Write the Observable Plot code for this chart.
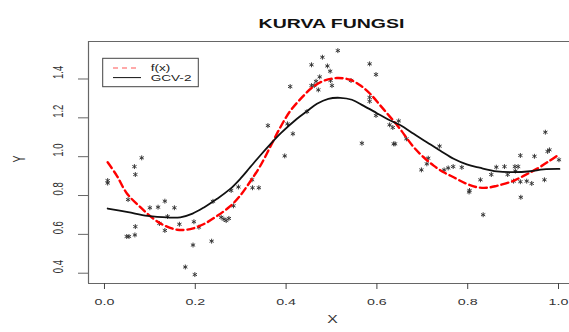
<!DOCTYPE html>
<html><head><meta charset="utf-8">
<script src="https://cdn.jsdelivr.net/npm/d3@7"></script>
<script src="https://cdn.jsdelivr.net/npm/@observablehq/plot@0.6"></script>
<style>html,body{margin:0;padding:0;background:#fff;}</style>
</head><body><div id="chart"></div>
<script>
const title = "KURVA FUNGSI";
const xLabel = "X";
const yLabel = "Y";
const legendLabels = ["f(x)", "GCV-2"];
const xTicks = [0, 0.2, 0.4, 0.6, 0.8, 1.0];
const yTicks = [0.4, 0.6, 0.8, 1.0, 1.2, 1.4];

const obsX = [0.007,0.007,0.049,0.054,0.067,0.052,0.066,0.068,0.082,0.068,
  0.100,0.118,0.133,0.154,0.139,0.121,0.165,0.133,0.197,0.208,
  0.195,0.178,0.199,0.236,0.239,0.284,0.279,0.295,0.257,0.263,
  0.268,0.274,0.325,0.326,0.340,0.360,0.397,0.403,0.415,0.409,
  0.446,0.456,0.456,0.462,0.466,0.471,0.474,0.480,0.491,0.497,
  0.498,0.501,0.514,0.543,0.584,0.598,0.584,0.584,0.598,0.567,
  0.628,0.635,0.648,0.637,0.640,0.665,0.738,0.713,0.710,0.698,
  0.748,0.757,0.768,0.787,0.804,0.803,0.828,0.834,0.852,0.863,
  0.881,0.888,0.904,0.911,0.905,0.916,0.947,0.971,0.980,0.976,
  1.001,0.901,0.916,0.930,0.941,0.969,0.917];
const obsY = [0.877,0.864,0.589,0.589,0.597,0.779,0.949,0.908,0.994,0.640,
  0.737,0.740,0.771,0.737,0.692,0.656,0.652,0.620,0.665,0.637,
  0.545,0.432,0.393,0.565,0.770,0.747,0.826,0.844,0.688,0.678,
  0.671,0.682,0.881,0.840,0.840,1.160,1.004,1.169,1.118,1.361,
  1.232,1.473,1.366,1.366,1.388,1.344,1.411,1.512,1.467,1.440,
  1.392,1.366,1.546,1.392,1.478,1.423,1.305,1.285,1.212,1.069,
  1.164,1.150,1.184,1.066,1.066,1.092,1.054,0.992,0.963,0.932,
  0.932,0.942,0.949,0.945,0.826,0.818,0.881,0.701,0.908,0.946,
  0.949,0.908,0.949,0.949,0.926,1.006,1.002,1.126,1.035,1.027,
  0.984,0.874,0.871,0.874,0.862,0.881,0.791];

// f(x) curve (red dashed)
const fX = [0.007,0.027,0.049,0.079,0.108,0.130,0.160,0.189,0.218,0.248,0.277,0.299,0.321,0.343,0.365,0.387,0.409,0.435,0.457,0.482,0.512,0.541,0.563,0.585,0.607,0.629,0.648,0.681,0.703,0.725,0.747,0.769,0.795,0.820,0.842,0.864,0.897,0.923,0.952,0.978,1.000];
const fY = [0.971,0.903,0.812,0.740,0.680,0.648,0.624,0.627,0.652,0.695,0.745,0.800,0.872,0.952,1.050,1.150,1.235,1.305,1.355,1.390,1.405,1.396,1.368,1.324,1.265,1.205,1.152,1.049,0.997,0.954,0.920,0.894,0.863,0.843,0.840,0.850,0.872,0.901,0.937,0.975,1.010];

// GCV-2 curve (black solid)
const gX = [0.007,0.052,0.095,0.139,0.167,0.194,0.220,0.248,0.277,0.299,0.321,0.343,0.365,0.389,0.424,0.446,0.468,0.493,0.519,0.545,0.570,0.600,0.626,0.651,0.681,0.710,0.739,0.769,0.798,0.826,0.864,0.901,0.938,0.967,1.002];
const gY = [0.733,0.714,0.695,0.687,0.688,0.707,0.740,0.783,0.834,0.886,0.946,1.006,1.063,1.122,1.195,1.234,1.272,1.298,1.303,1.293,1.263,1.224,1.190,1.163,1.118,1.074,1.032,0.989,0.960,0.943,0.924,0.920,0.925,0.935,0.937];

const xDomain = [-0.0352, 1.0242];
const yDomain = [0.347, 1.593];

const obs = obsX.map((x, i) => ({x, y: obsY[i]}));
const fData = fX.map((x, i) => ({x, y: fY[i]}));
const gData = gX.map((x, i) => ({x, y: gY[i]}));

const FONT = "'Liberation Sans', Arial, Helvetica, sans-serif";
const borderColor = "#666";

const chart = Plot.plot({
  width: 569,
  height: 332,
  marginLeft: 88,
  marginRight: 0,
  marginTop: 41,
  marginBottom: 49,
  style: {fontFamily: FONT, background: "#fff", overflow: "visible"},
  x: {domain: xDomain},
  y: {domain: yDomain},
  marks: [
    Plot.ruleY([yDomain[0], yDomain[1]], {stroke: borderColor, strokeWidth: 1.2}),
    Plot.ruleX([xDomain[0]], {stroke: borderColor, strokeWidth: 1.2}),
    Plot.axisX({ticks: xTicks, tickSize: 6, tickPadding: 9, tickFormat: d => d.toFixed(1),
      fontSize: 9.5, stroke: "#444", fill: "#333", label: null}),
    Plot.axisY({ticks: yTicks, tickSize: 10, tickFormat: () => "", stroke: "#666", label: null}),
    Plot.text(yTicks, {y: d => d, text: d => d.toFixed(1), frameAnchor: "left", dx: -30,
      rotate: -90, fontSize: 9.5, fill: "#333"}),
    Plot.dot(obs, {x: "x", y: "y", symbol: "asterisk", r: 2.3, stroke: "#333", strokeWidth: 0.95}),
    Plot.line(fData, {x: "x", y: "y", stroke: "#ff0000", strokeWidth: 2.4, strokeDasharray: "7,4", curve: "catmull-rom"}),
    Plot.line(gData, {x: "x", y: "y", stroke: "#111", strokeWidth: 1.8, curve: "catmull-rom"}),
    Plot.text([title], {text: d => d, frameAnchor: "top", dx: 2.5, dy: -23, fontSize: 13, fontWeight: "bold", fill: "#111"}),
    Plot.text([xLabel], {text: d => d, frameAnchor: "bottom", dx: 3.5, dy: 39.5, fontSize: 10.5, fill: "#333"}),
    Plot.text([yLabel], {text: d => d, frameAnchor: "left", dx: -69, rotate: -90, fontSize: 10.5, fill: "#333"})
  ]
});

document.getElementById("chart").appendChild(chart);

// legend box (top-left inside the plot region)
const svg = d3.select(chart);
const lg = svg.append("g").attr("class", "legend").style("font-family", FONT);
lg.append("rect").attr("x", 102.7).attr("y", 58.3).attr("width", 95.6).attr("height", 28.4)
  .attr("fill", "#fff").attr("stroke", "#444").attr("stroke-width", 1);
lg.append("line").attr("x1", 113).attr("x2", 139).attr("y1", 68.0).attr("y2", 68.0)
  .attr("stroke", "#ff5555").attr("stroke-width", 1.2).attr("stroke-dasharray", "5,4");
lg.append("line").attr("x1", 113).attr("x2", 141).attr("y1", 77.6).attr("y2", 77.6)
  .attr("stroke", "#111").attr("stroke-width", 1);
lg.selectAll("text.lab").data(legendLabels).join("text").attr("class", "lab")
  .attr("x", 150.7).attr("y", (d, i) => 70.6 + i * 10.0)
  .attr("font-size", 8.5).attr("fill", "#222").attr("text-anchor", "start").text(d => d);

// horizontal stretch of the text to mimic the reference raster
function stretch(root, s, sel) {
  root.querySelectorAll(sel).forEach(t => {
    const b = t.getBBox();
    if (!b.width) return;
    const tr = t.getAttribute("transform") || "";
    if (/rotate\(/.test(tr)) {
      const cy = b.y + b.height / 2;
      t.setAttribute("transform", `${tr} translate(0,${cy}) scale(1,${s}) translate(0,${-cy})`);
    } else {
      const anchor = getComputedStyle(t).textAnchor;
      const ax = anchor === "start" ? b.x : anchor === "end" ? b.x + b.width : b.x + b.width / 2;
      t.setAttribute("transform", `${tr} translate(${ax},0) scale(${s},1) translate(${-ax},0)`);
    }
  });
}
stretch(chart, 1.5, "text:not(.lab)");
stretch(chart, 1.6, "text.lab");
</script>
</body></html>
